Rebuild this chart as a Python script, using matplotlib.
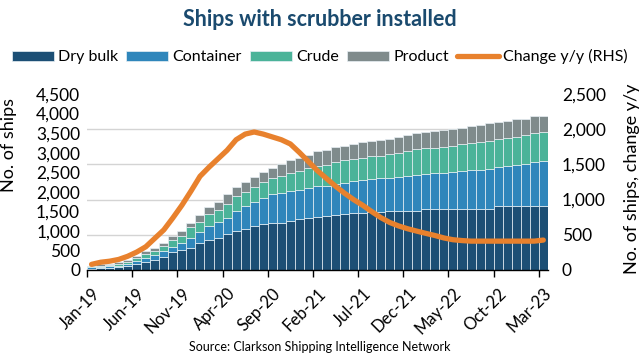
import matplotlib
matplotlib.use("Agg")
import matplotlib.pyplot as plt
import numpy as np

plt.rcParams['font.family'] = ['Lato', 'DejaVu Sans']

months = ["Jan-19","Feb-19","Mar-19","Apr-19","May-19","Jun-19","Jul-19","Aug-19","Sep-19","Oct-19","Nov-19","Dec-19",
          "Jan-20","Feb-20","Mar-20","Apr-20","May-20","Jun-20","Jul-20","Aug-20","Sep-20","Oct-20","Nov-20","Dec-20",
          "Jan-21","Feb-21","Mar-21","Apr-21","May-21","Jun-21","Jul-21","Aug-21","Sep-21","Oct-21","Nov-21","Dec-21",
          "Jan-22","Feb-22","Mar-22","Apr-22","May-22","Jun-22","Jul-22","Aug-22","Sep-22","Oct-22","Nov-22","Dec-22",
          "Jan-23","Feb-23","Mar-23"]

dry_bulk = [35, 45, 55, 70, 100, 150, 215, 260, 345, 455, 500, 570,
            680, 765, 825, 910, 995, 1054, 1122, 1165, 1207, 1207, 1250, 1292,
            1335, 1360, 1377, 1403, 1420, 1445, 1462, 1479, 1488, 1504, 1504, 1504,
            1504, 1547, 1547, 1547, 1547, 1564, 1564, 1564, 1564, 1632, 1632, 1632,
            1632, 1632, 1632]
container = [30, 35, 40, 45, 55, 85, 103, 130, 130, 145, 190, 255,
             289, 357, 399, 425, 510, 578, 612, 680, 748, 765, 765, 765,
             765, 782, 782, 799, 807, 825, 833, 850, 858, 859, 885, 910,
             936, 909, 926, 935, 952, 977, 986, 1003, 1020, 1003, 1037, 1063,
             1088, 1122, 1148]
crude = [25, 35, 35, 45, 60, 70, 95, 105, 145, 170, 190, 272,
         255, 298, 298, 340, 382, 366, 391, 399, 400, 442, 467, 468,
         510, 527, 536, 552, 578, 569, 570, 578, 578, 597, 611, 636,
         650, 654, 657, 671, 672, 681, 706, 698, 706, 707, 698, 715,
         732, 741, 749]
product = [20, 30, 30, 35, 45, 50, 60, 65, 75, 90, 125, 110,
           170, 195, 212, 255, 238, 246, 255, 255, 255, 306, 323, 340,
           340, 366, 382, 391, 374, 383, 399, 383, 391, 400, 410, 410,
           410, 420, 425, 427, 427, 417, 426, 443, 461, 442, 451, 451,
           418, 443, 416]
change_yy = [80, 110, 125, 150, 195, 255, 330, 450, 570, 740, 920, 1120,
             1330, 1460, 1580, 1700, 1850, 1930, 1960, 1930, 1890, 1850, 1790, 1670,
             1540, 1410, 1300, 1190, 1090, 1000, 920, 830, 745, 675, 625, 585,
             552, 520, 490, 455, 430, 418, 410, 410, 410, 410, 410, 410,
             410, 410, 425]

series_names = ["Dry bulk", "Container", "Crude", "Product"]
colors = ["#1c4f75", "#2f86bb", "#4bb399", "#7f8b8c"]
line_color = "#e8812d"
title_color = "#1a4a6e"

fig = plt.figure(figsize=(6.4, 3.6), dpi=100)
ax = fig.add_axes([0.136, 0.25, 0.72, 0.489])
ax2 = ax.twinx()

x = np.arange(len(months))
bottom = np.zeros(len(months))
handles = []
for vals, name, col in zip([dry_bulk, container, crude, product], series_names, colors):
    b = ax.bar(x, vals, bottom=bottom, width=1.0, color=col, edgecolor="#e8f0f5",
               linewidth=0.5, label=name, zorder=2)
    bottom += np.array(vals)
    handles.append(b)

ln, = ax2.plot(x, change_yy, color=line_color, lw=3.8, solid_capstyle='round',
               label="Change y/y (RHS)", zorder=3)
handles.append(ln)

ax.set_xlim(-0.5, len(months) - 0.5)
ax.set_ylim(0, 4500)
ax2.set_ylim(0, 2500)

ax.set_yticks(np.arange(0, 4501, 500))
ax.set_yticklabels([f"{v:,}" for v in range(0, 4501, 500)])
ax2.set_yticks(np.arange(0, 2501, 500))
ax2.set_yticklabels([f"{v:,}" for v in range(0, 2501, 500)])

# grid from the right axis scale
ax.set_yticks(np.linspace(0, 4500, 6), minor=True)
ax.yaxis.grid(True, which='minor', color="#d4d4d4", lw=1.0, zorder=0)
ax.yaxis.grid(False, which='major')
ax.set_axisbelow(True)
ax.tick_params(axis='y', which='both', length=0, labelsize=12.5, pad=5)
ax2.tick_params(axis='y', length=0, labelsize=12.5, pad=10)

label_idx = list(range(0, len(months), 5))
ax.set_xticks(label_idx)
ax.set_xticklabels([months[i] for i in label_idx], rotation=45, ha='right',
                   rotation_mode='anchor', fontsize=12)
ax.tick_params(axis='x', which='major', length=0, pad=11)
ax.set_xticks([i - 0.5 for i in label_idx], minor=True)
ax.tick_params(axis='x', which='minor', length=5, width=1.0, color='black', direction='out')

for a in (ax, ax2):
    for s in ['top', 'left', 'right']:
        a.spines[s].set_visible(False)
ax2.spines['bottom'].set_visible(False)
ax.spines['bottom'].set_color('black')
ax.spines['bottom'].set_linewidth(1.0)

ax.set_ylabel("No. of ships", fontsize=13)
ax.yaxis.set_label_coords(-0.152, 0.71)
ax2.set_ylabel("No. of ships, change y/y", fontsize=13)
ax2.yaxis.set_label_coords(1.165, 0.52)

fig.text(0.5, 0.945, "Ships with scrubber installed", ha='center', va='center',
         fontsize=15.5, fontweight='bold', color=title_color)
fig.legend(handles, series_names + ["Change y/y (RHS)"], loc='center',
           bbox_to_anchor=(0.5, 0.842), ncol=5, frameon=False, fontsize=11.5,
           handlelength=2.6, handleheight=0.55, handletextpad=0.3, columnspacing=0.5)
fig.text(0.5, 0.035, "Source: Clarkson Shipping Intelligence Network", ha='center',
         va='center', fontsize=9)

fig.savefig("out.png", dpi=100)
